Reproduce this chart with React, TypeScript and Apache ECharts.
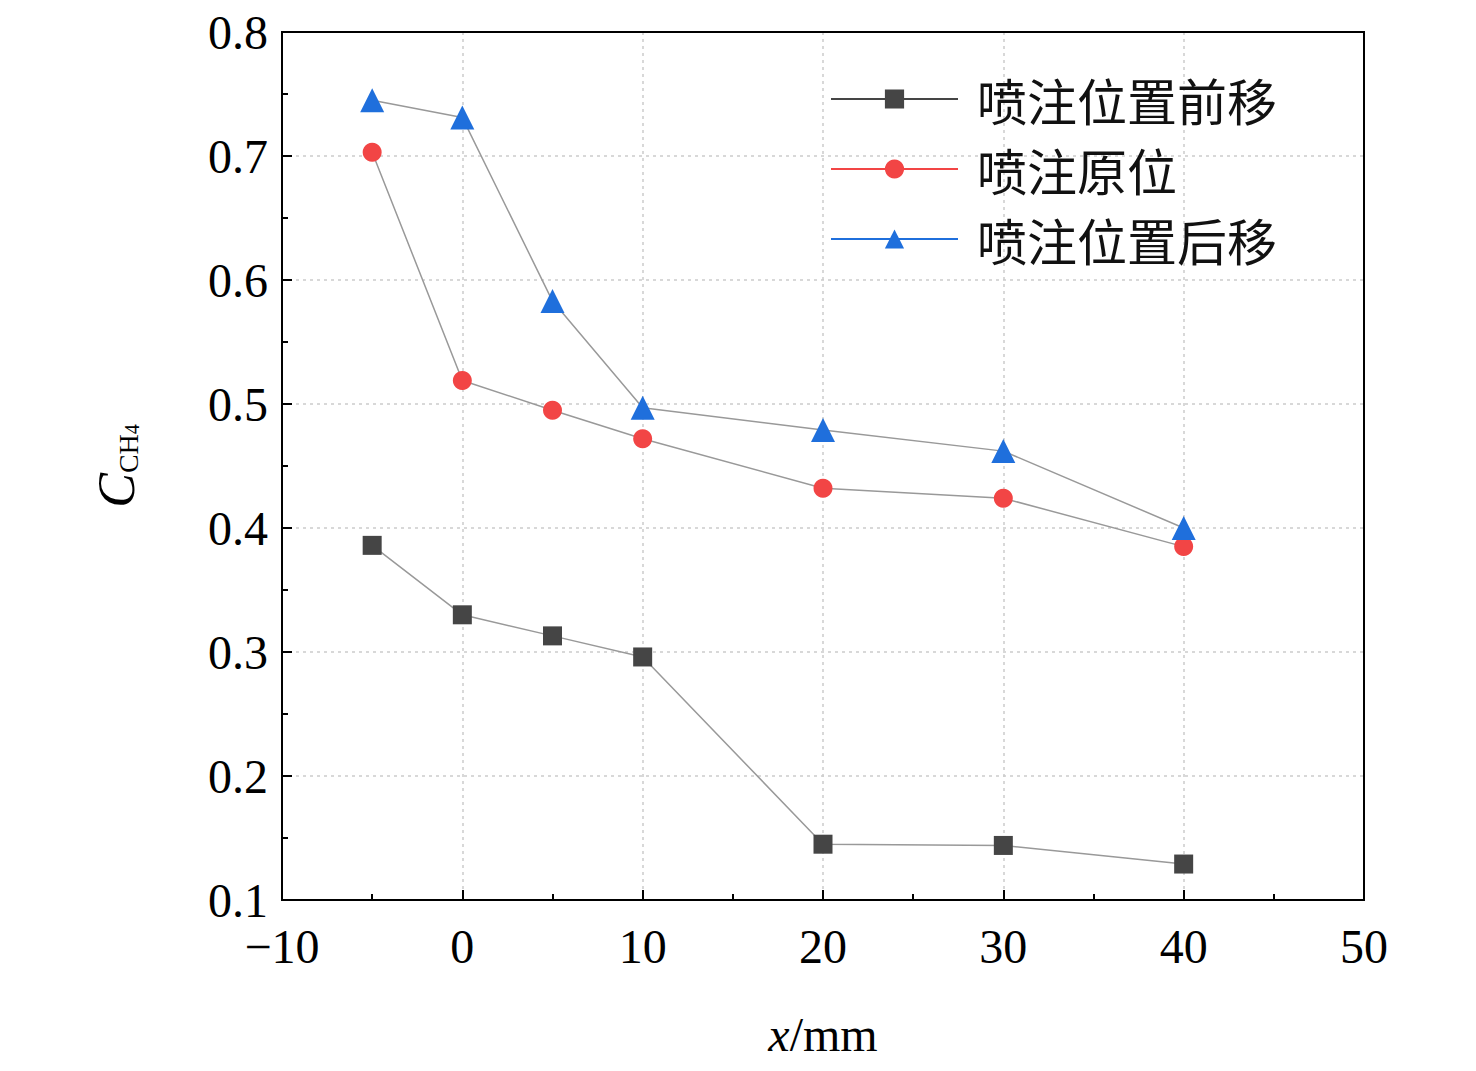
import React, { useEffect, useRef } from "react";
import * as echarts from "echarts";

const xs = [-5, 0, 5, 10, 20, 30, 40];
const seriesNames = ["喷注位置前移", "喷注原位", "喷注位置后移"];
const forward = [0.386, 0.330, 0.313, 0.296, 0.145, 0.144, 0.129];
const original = [0.703, 0.519, 0.495, 0.472, 0.432, 0.424, 0.385];
const backward = [0.745, 0.731, 0.583, 0.497, 0.479, 0.462, 0.400];
const colors = ["#454545", "#f24545", "#1f6fdc"];
const symbols = ["rect", "circle", "triangle"];

export default function App() {
  const ref = useRef<HTMLDivElement>(null);
  useEffect(() => {
    const chart = echarts.init(ref.current!, null, { renderer: "svg" });
    const serif = "'Liberation Serif', 'Times New Roman', serif";
    const datas = [forward, original, backward];
    chart.setOption({
      animation: false,
      grid: { left: 274, top: 21, right: 104, bottom: 162, show: true, borderColor: "#000", borderWidth: 2, backgroundColor: "transparent", z: 10 },
      legend: {
        orient: "vertical", left: 817, top: 58, itemWidth: 127, itemHeight: 24, itemGap: 14,
        textStyle: { fontFamily: "'Noto Sans CJK SC'", fontSize: 50, color: "#111", padding: [0, 0, 0, 14], lineHeight: 56 },
        data: seriesNames.map((n, i) => ({ name: n, lineStyle: { color: colors[i], width: 2 }, itemStyle: { color: colors[i] } })),
      },
      xAxis: {
        type: "value", min: -10, max: 50, interval: 10,
        axisLine: { onZero: false, lineStyle: { color: "#000", width: 2 } },
        axisTick: { inside: true, length: 10, lineStyle: { width: 2 } },
        minorTick: { show: true, splitNumber: 2, length: 6, lineStyle: { color: "#000", width: 2 } },
        splitLine: { show: true, lineStyle: { color: "#ccc", type: [3, 4], width: 1.5 } },
        axisLabel: { fontFamily: serif, fontSize: 48, color: "#000", margin: 22, formatter: (v: number) => (v < 0 ? "\u2212" + Math.abs(v) : String(v)) },
        name: "{i|x}/mm", nameLocation: "middle", nameGap: 110,
        nameTextStyle: { fontFamily: serif, fontSize: 48, color: "#000", rich: { i: { fontFamily: serif, fontSize: 48, fontStyle: "italic" } } },
      },
      yAxis: {
        type: "value", min: 0.1, max: 0.8, interval: 0.1,
        axisLine: { show: true, onZero: false, lineStyle: { color: "#000", width: 2 } },
        axisTick: { show: true, inside: true, length: 10, lineStyle: { width: 2 } },
        minorTick: { show: true, splitNumber: 2, length: 6, lineStyle: { color: "#000", width: 2 } },
        splitLine: { show: true, lineStyle: { color: "#ccc", type: [3, 4], width: 1.5 } },
        axisLabel: { fontFamily: serif, fontSize: 48, color: "#000", margin: 14, formatter: (v: number) => v.toFixed(1) },
        name: "{c|C}{s|CH}{t|4}", nameLocation: "middle", nameGap: 140, nameRotate: 90,
        nameTextStyle: {
          fontFamily: serif, color: "#000",
          rich: {
            c: { fontFamily: serif, fontSize: 52, fontStyle: "italic" },
            s: { fontFamily: serif, fontSize: 28, verticalAlign: "bottom", padding: [18, 0, 0, 0] },
            t: { fontFamily: serif, fontSize: 20, verticalAlign: "bottom", padding: [26, 0, 0, 0] },
          },
        },
      },
      series: datas.map((d, i) => ({
        name: seriesNames[i], type: "line",
        data: xs.map((x, j) => [x, d[j]]),
        symbol: symbols[i], symbolSize: i === 2 ? 24 : 19,
        lineStyle: { color: "#999", width: 1.5 },
        itemStyle: { color: colors[i] },
        z: 3 + i,
      })),
    });
    return () => chart.dispose();
  }, []);
  return <div ref={ref} style={{ width: 1460, height: 1055 }} />;
}
